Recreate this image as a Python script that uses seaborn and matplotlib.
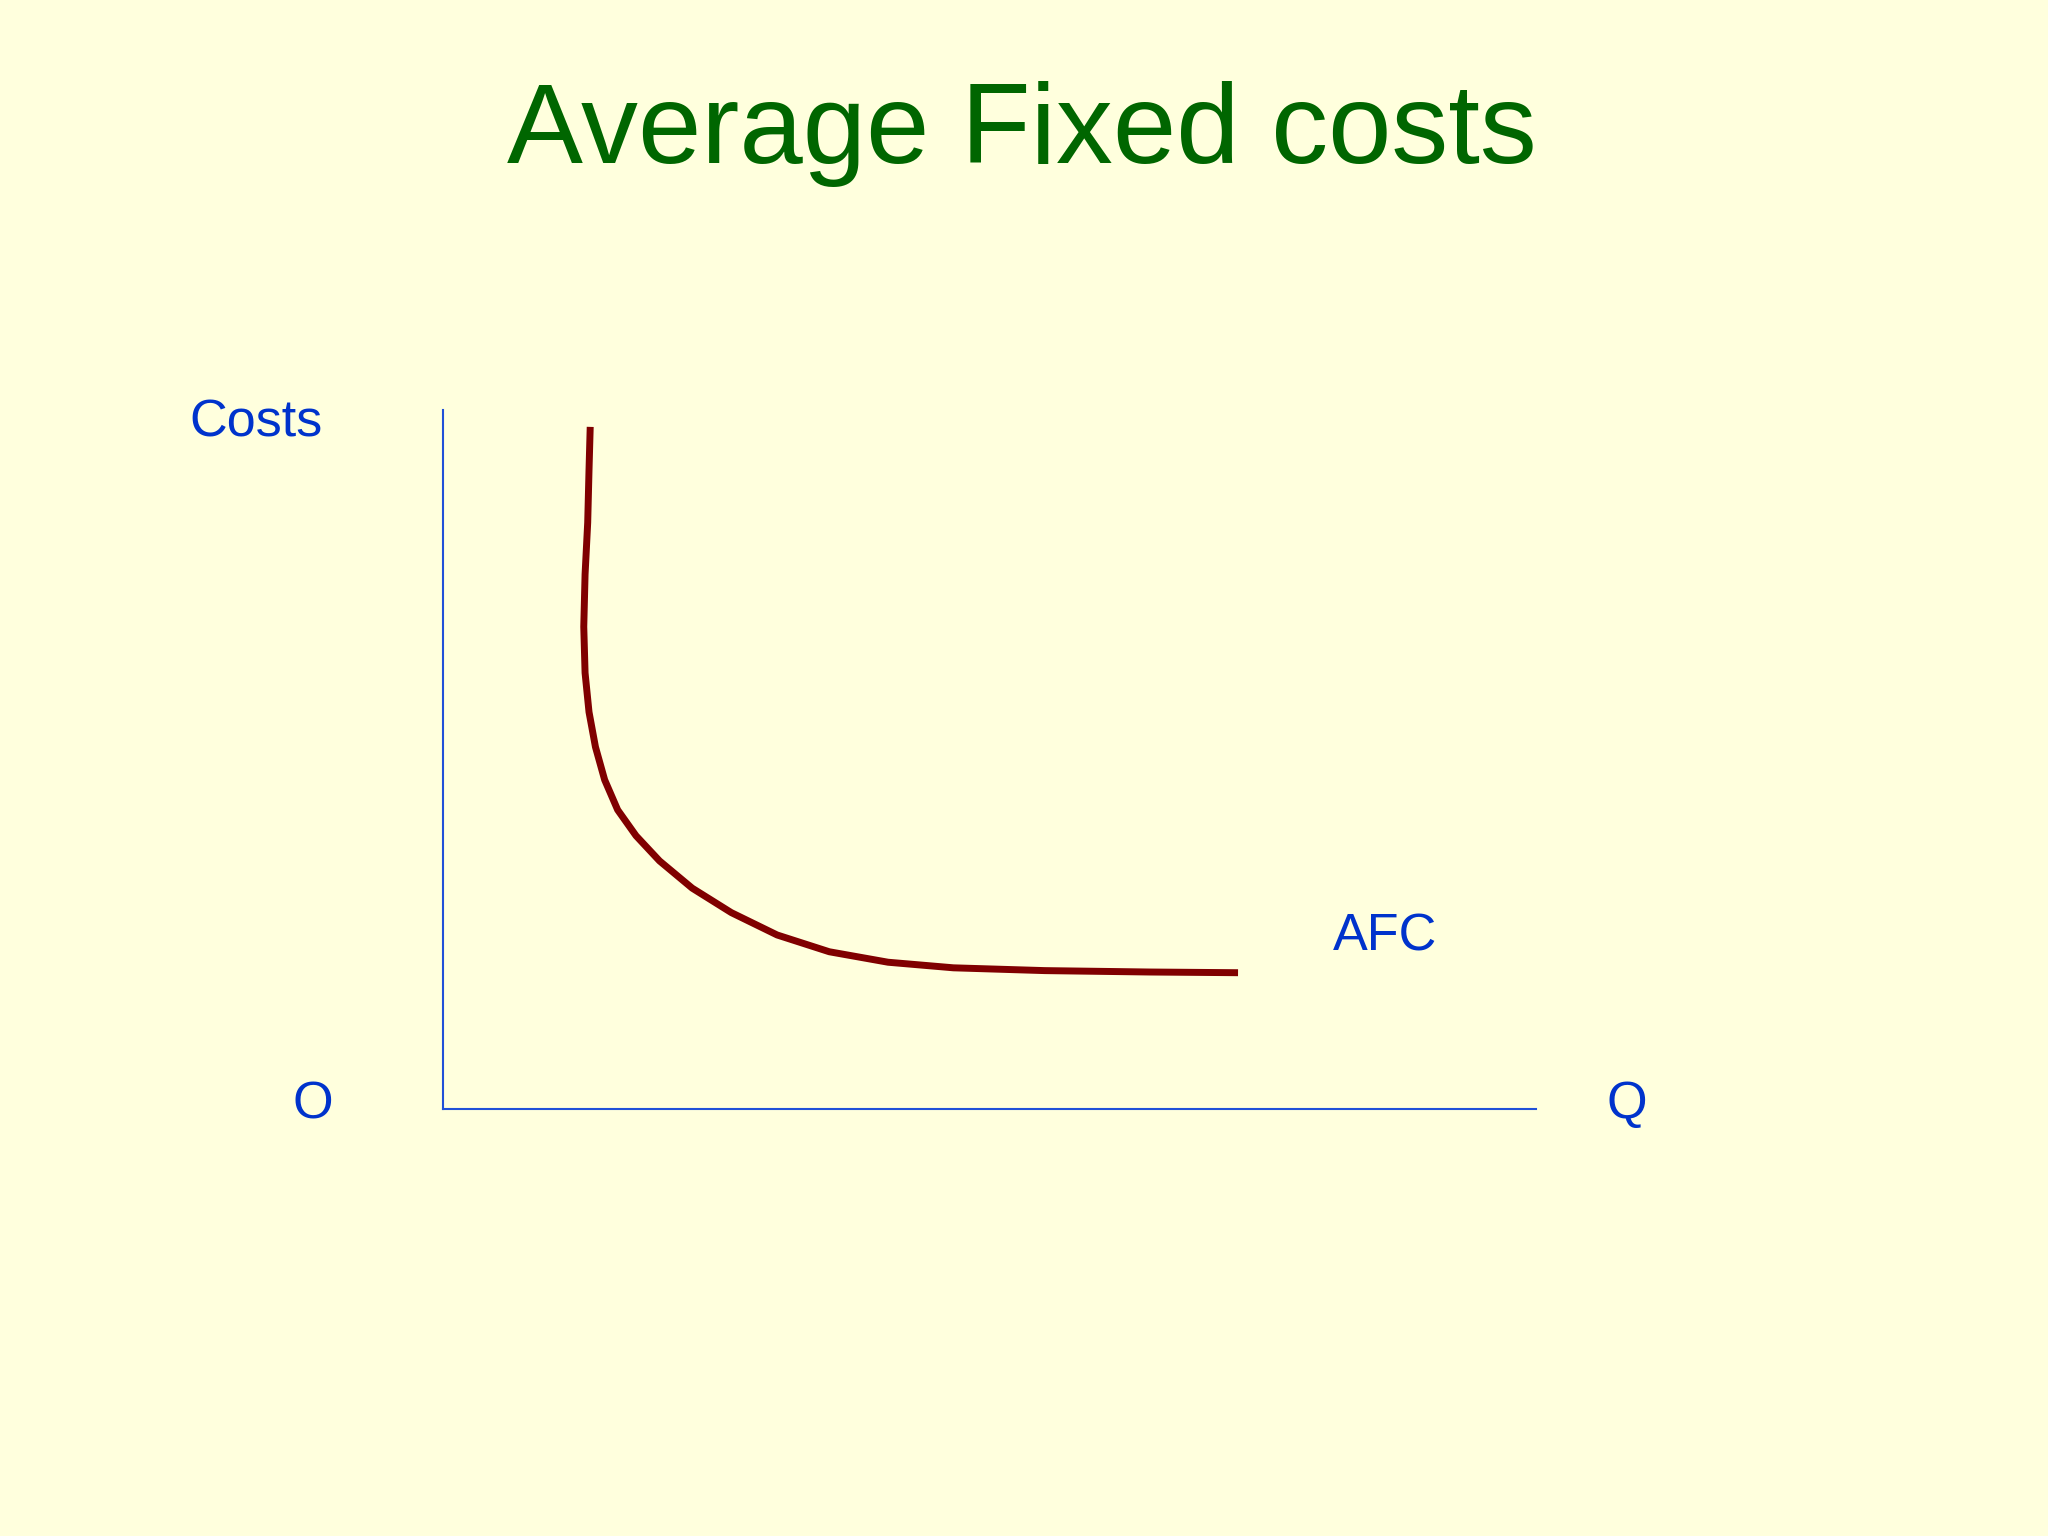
import matplotlib
matplotlib.use("Agg")
import matplotlib.pyplot as plt
import seaborn as sns
import pandas as pd

# AFC curve (quantity 0-100, cost 0-100)
quantity = [13.47, 13.36, 13.24, 13.0, 12.88, 13.0, 13.36, 13.95, 14.79, 15.98,
            17.66, 19.81, 22.8, 26.38, 30.57, 35.34, 40.72, 46.7, 55.06, 64.62,
            72.74]
afc = [97.6, 91.4, 83.9, 76.5, 69.0, 62.4, 56.8, 51.8, 47.1, 42.8,
       39.1, 35.5, 31.6, 28.1, 24.9, 22.5, 21.0, 20.2, 19.8, 19.6,
       19.5]

title = "Average Fixed costs"
y_label = "Costs"
x_label = "Q"
origin_label = "O"
curve_label = "AFC"

bg = "#FFFFDD"
text_blue = "#0033CC"
axis_blue = "#2050D8"

sns.set_theme(style="white")
plt.rcParams['font.family'] = ['Liberation Sans', 'DejaVu Sans']

fig = plt.figure(figsize=(20.48, 15.36), dpi=100, facecolor=bg)
ax = fig.add_axes([0.2163, 0.278, 0.5337, 0.455])
ax.set_facecolor(bg)

df = pd.DataFrame({"Q": quantity, "AFC": afc})
sns.lineplot(data=df, x="Q", y="AFC", sort=False, estimator=None,
             color="#800000", linewidth=5, ax=ax,
             solid_capstyle="butt", solid_joinstyle="round")

ax.set_xlim(0, 100)
ax.set_ylim(0, 100)
ax.set_xticks([])
ax.set_yticks([])
ax.set_xlabel("")
ax.set_ylabel("")
for side in ["top", "right"]:
    ax.spines[side].set_visible(False)
for side in ["left", "bottom"]:
    ax.spines[side].set_color(axis_blue)
    ax.spines[side].set_linewidth(1.5)

fig.text(0.499, 0.894, title, color="#006600", fontsize=82,
         ha="center", va="baseline")
fig.text(0.125, 0.7155, y_label, color=text_blue, fontsize=37.5,
         ha="center", va="baseline")
fig.text(0.1528, 0.2721, origin_label, color=text_blue, fontsize=37.5,
         ha="center", va="baseline")
fig.text(0.7944, 0.2721, x_label, color=text_blue, fontsize=37.5,
         ha="center", va="baseline")
fig.text(0.6763, 0.3815, curve_label, color=text_blue, fontsize=37.5,
         ha="center", va="baseline")

fig.savefig("out.png", dpi=100, facecolor=bg)
